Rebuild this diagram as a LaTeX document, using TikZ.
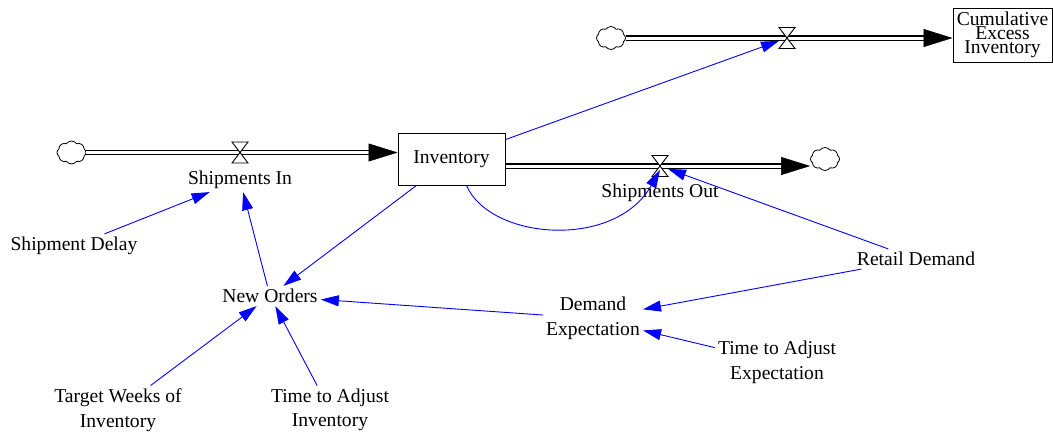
\documentclass[tikz,border=0pt]{standalone}
\usepackage{fontspec}
\setmainfont{Liberation Serif}
\usepackage{tikz}
\usetikzlibrary{arrows.meta, shapes.symbols, calc}
\definecolor{cLink}{RGB}{0,0,255}
% squeezed lines inside the small stock box
\newcommand{\tightlines}{\fontsize{19.6}{14}\selectfont\lineskiplimit=-100pt\relax}
\tikzset{
	stock/.style    ={rectangle, draw=black, line width=1pt, inner sep=0pt, align=center},
	var/.style      ={inner sep=3pt, align=center},
	source/.style   ={cloud, cloud puffs=8, cloud puff arc=110, draw=black, line width=0.8pt, minimum width=29pt, minimum height=23pt, inner sep=0pt},
	valve/.style    ={rectangle, minimum width=16pt, minimum height=21pt, inner sep=0pt, outer sep=0pt},
	hourglass/.style={draw=black, line width=0.9pt, fill=white, line join=miter},
	% flow pipes
	pipe/.style     ={draw=black, line width=1.2pt, double=white, double distance=3pt},
	flowhead/.style ={-{Triangle[length=29pt, width=18pt]}, line width=0.5pt},
	% causal links
	link/.style     ={-{Triangle[length=18pt, width=11pt]}, cLink, line width=0.9pt},
}

\begin{document}
\begin{tikzpicture}[x=1pt, y=-1pt, font=\fontsize{19.6}{24.5}\selectfont]
	\useasboundingbox (0,0) rectangle (1053,432);
	% stocks
	\node[stock, minimum width=107pt, minimum height=52pt] (inv) at (451.5,159) {Inventory};
	\node[stock, minimum width=99pt, minimum height=54pt, font=\tightlines] (cum) at (1002.5,35) {Cumulative\\Excess\\Inventory};
	% sources and sinks
	\node[source] (srcIn) at (71.5,152.5) {};
	\node[source] (srcTop) at (611,38) {};
	\node[source] (sinkOut) at (825,159) {};
	% valves
	\node[valve] (vIn) at (240,152.5) {};
	\node[valve] (vOut) at (660,166) {};
	\node[valve] (vTop) at (787,38) {};
	% flow names
	\node[var] (shipIn) at (240,180) {Shipments In};
	\node[var] (shipOut) at (660,193) {Shipments Out};
	% auxiliaries
	\node[var] (delay) at (74,246) {Shipment Delay};
	\node[var] (orders) at (270,296) {New Orders};
	\node[var] (expect) at (593,318.5) {Demand\\Expectation};
	\node[var] (demand) at (916,259) {Retail Demand};
	\node[var] (tExpect) at (777,362.5) {Time to Adjust\\Expectation};
	\node[var] (target) at (118,410) {Target Weeks of\\Inventory};
	\node[var] (tInv) at (330,410) {Time to Adjust\\Inventory};

	% pipes
	\coordinate (inEnd) at (inv.west |- vIn);
	\coordinate (outEnd) at (sinkOut.west |- vOut);
	\coordinate (topEnd) at (cum.west |- vTop);
	\draw[pipe, shorten >=20pt] (srcIn) -- (inEnd);
	\draw[flowhead] ($(inEnd)+(-29,0)$) -- (inEnd);
	\draw[pipe, shorten >=20pt] (inv.east |- vOut) -- (outEnd);
	\draw[flowhead] ($(outEnd)+(-29,0)$) -- (outEnd);
	\draw[pipe, shorten >=20pt] (srcTop) -- (topEnd);
	\draw[flowhead] ($(topEnd)+(-29,0)$) -- (topEnd);
	\foreach \v in {vIn, vOut, vTop}
		\draw[hourglass] (\v.north west) -- (\v.north east) -- (\v.south west) -- (\v.south east) -- cycle;

	% links
	\draw[link] (delay) -- (shipIn);
	\draw[link] (orders) -- (shipIn);
	\draw[link] (inv) -- (orders);
	\draw[link] (expect) -- (orders);
	\draw[link] (target) -- (orders);
	\draw[link] (tInv) -- (orders);
	\draw[link] (demand) -- (expect);
	\draw[link] (tExpect) -- (expect);
	\draw[link] (demand) -- (vOut);
	\draw[link] (inv) -- (vTop);
	\draw[link] ([xshift=15pt]inv.south) .. controls (490,240) and (615,250) .. ([yshift=-4pt]vOut.center);
\end{tikzpicture}
\end{document}
